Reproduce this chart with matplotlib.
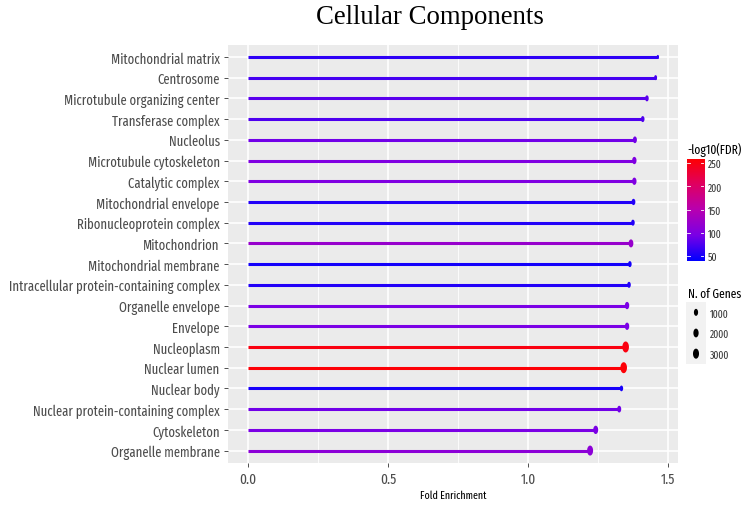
import matplotlib
matplotlib.use("Agg")
import matplotlib.pyplot as plt
import numpy as np
from matplotlib.colors import LinearSegmentedColormap, Normalize
from matplotlib.path import Path
from matplotlib import font_manager

terms = ["Mitochondrial matrix", "Centrosome", "Microtubule organizing center",
         "Transferase complex", "Nucleolus", "Microtubule cytoskeleton",
         "Catalytic complex", "Mitochondrial envelope", "Ribonucleoprotein complex",
         "Mitochondrion", "Mitochondrial membrane",
         "Intracellular protein-containing complex", "Organelle envelope", "Envelope",
         "Nucleoplasm", "Nuclear lumen", "Nuclear body",
         "Nuclear protein-containing complex", "Cytoskeleton", "Organelle membrane"]
fold_enrichment = [1.464, 1.456, 1.425, 1.41, 1.382, 1.38, 1.38, 1.377, 1.375, 1.368,
                   1.364, 1.361, 1.354, 1.354, 1.349, 1.342, 1.334, 1.326, 1.242, 1.222]
neg_log_fdr = [60, 70, 80, 75, 90, 100, 100, 55, 55, 120,
               48, 55, 95, 95, 250, 255, 50, 90, 95, 110]
n_genes = [350, 420, 640, 640, 880, 1140, 1140, 730, 640, 1510,
           640, 640, 1140, 1140, 3900, 3850, 560, 880, 1690, 2960]
xticks = [0.0, 0.5, 1.0, 1.5]
cbar_ticks = [50, 100, 150, 200, 250]
size_breaks = [1000, 2000, 3000]

names = {f.name for f in font_manager.fontManager.ttflist}
narrow = "DejaVu Sans"
for cand in ["Fira Sans Extra Condensed", "Barlow Condensed", "Sofia Sans Condensed",
             "Roboto Condensed", "Liberation Sans Narrow"]:
    if cand in names:
        narrow = cand
        break

cmap = LinearSegmentedColormap.from_list("br", ["#0000FF", "#7A00E6", "#B800B0", "#E00060", "#FF0000"])
norm = Normalize(39, 259)

# ellipse marker (picture is squeezed horizontally)
t = np.linspace(0, 2 * np.pi, 60)
ellipse = Path(np.column_stack([0.6 * np.cos(t), np.sin(t)]))

def dot_size(n):
    d_px = 4 + 7 * np.sqrt(np.clip((np.asarray(n) - 350) / 3550, 0, None))
    return (0.72 * d_px) ** 2

W, H = 750, 506
fig = plt.figure(figsize=(7.5, 5.06), dpi=100)
renderer = fig.canvas.get_renderer()

def fit_size(text, target_px, family):
    tt = fig.text(0, 0, text, fontsize=10, family=family)
    w = tt.get_window_extent(renderer).width
    tt.remove()
    return 10 * target_px / w

lab_fs = min(fit_size("Intracellular protein-containing complex", 212, narrow), 13)
tick_fs = min(fit_size("0.0", 17, narrow), 13)
leg_fs = min(fit_size("-log10(FDR)", 60, narrow), 9)
xlab_fs = min(fit_size("Fold Enrichment", 67, narrow), 9)
lab_small = 7.5

ax = fig.add_axes([228 / W, 1 - 464 / H, 450 / W, 418.5 / H])
ax.set_facecolor("#EBEBEB")

y = np.arange(len(terms))[::-1]
cols = cmap(norm(neg_log_fdr))

ax.set_xlim(-0.0714, 1.536)
ax.set_ylim(-0.6, len(terms) - 0.4)
for v in [0.25, 0.75, 1.25]:
    ax.axvline(v, color="white", lw=0.6, zorder=0)
for v in xticks:
    ax.axvline(v, color="white", lw=1.2, zorder=0)
for yy in y:
    ax.axhline(yy, color="white", lw=1.2, zorder=0)

ax.hlines(y, 0, fold_enrichment, colors=cols, lw=2.2, zorder=2)
ax.scatter(fold_enrichment, y, s=dot_size(n_genes), c=cols, marker=ellipse,
           zorder=3, linewidths=0)

ax.set_yticks(y)
ax.set_yticklabels(terms, fontsize=lab_fs, color="#4D4D4D", family=narrow)
ax.set_xticks(xticks)
ax.set_xticklabels([f"{v:.1f}" for v in xticks], fontsize=tick_fs, color="#4D4D4D", family=narrow)
ax.tick_params(length=3, width=0.6, color="#333333", pad=3)
for s in ax.spines.values():
    s.set_visible(False)
ax.set_xlabel("Fold Enrichment", fontsize=xlab_fs, family=narrow, labelpad=3)

fig.text(430 / W, 1 - 18 / H, "Cellular Components", ha="center", va="center",
         fontsize=19.3, family="Liberation Serif")

# colour bar
cax = fig.add_axes([687 / W, 1 - 262 / H, 17 / W, 102 / H])
grad = np.linspace(39, 259, 256).reshape(-1, 1)
cax.imshow(grad, aspect="auto", cmap=cmap, norm=norm, origin="lower",
           extent=[0, 1, 39, 259])
for tk in cbar_ticks:
    cax.plot([0, 0.2], [tk, tk], color="white", lw=0.6)
    cax.plot([0.8, 1], [tk, tk], color="white", lw=0.6)
cax.set_xlim(0, 1)
cax.set_ylim(39, 259)
cax.set_xticks([])
cax.yaxis.tick_right()
cax.set_yticks(cbar_ticks)
cax.set_yticklabels([str(tk) for tk in cbar_ticks], fontsize=lab_small, color="#333333", family=narrow)
cax.tick_params(length=0, pad=3)
for s in cax.spines.values():
    s.set_visible(False)
fig.text(687 / W, 1 - 150 / H, "-log10(FDR)", fontsize=leg_fs, va="center", family=narrow)

# size legend
fig.text(688 / W, 1 - 294 / H, "N. of Genes", fontsize=leg_fs, va="center", family=narrow)
sax = fig.add_axes([686 / W, 1 - 365 / H, 20 / W, 62 / H])
sax.set_facecolor("#F2F2F2")
ky = np.arange(len(size_breaks))[::-1]
sax.scatter([0.5] * len(size_breaks), ky, s=dot_size(size_breaks), c="black",
            marker=ellipse, linewidths=0)
sax.set_xlim(0, 1)
sax.set_ylim(-0.5, len(size_breaks) - 0.5)
sax.set_xticks([])
sax.yaxis.tick_right()
sax.set_yticks(ky)
sax.set_yticklabels([str(b) for b in size_breaks], fontsize=lab_small, color="#333333", family=narrow)
sax.tick_params(length=0, pad=3)
for s in sax.spines.values():
    s.set_visible(False)

fig.savefig("out.png", dpi=100, facecolor="white")
